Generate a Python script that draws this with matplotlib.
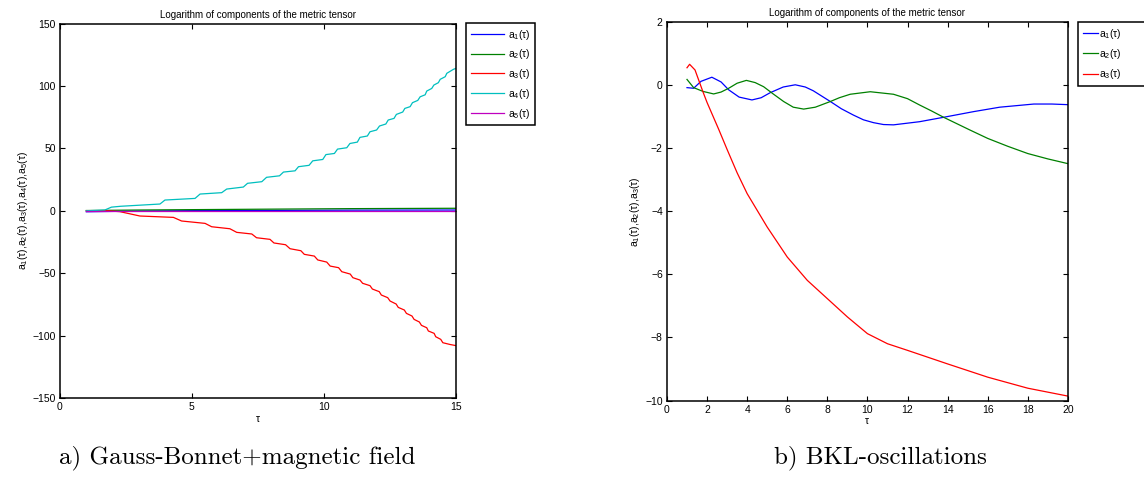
import matplotlib
matplotlib.use("Agg")
import matplotlib.pyplot as plt

plt.rcParams['font.family'] = ['Liberation Sans', 'DejaVu Sans']
plt.rcParams['mathtext.default'] = 'regular'

# ---- panel a) Gauss-Bonnet + magnetic field ---------------------------
tau_a1 = [1.0, 3.0, 5.0, 8.0, 11.0, 15.0]
a1 = [-0.8, -0.2, 0.1, 0.3, 0.5, 0.6]

tau_a2 = [1.0, 3.0, 5.0, 8.0, 11.0, 15.0]
a2 = [0.2, 0.6, 0.9, 1.3, 1.7, 2.0]

tau_a3 = [1.0, 1.8, 2.27, 3.03, 4.30, 4.61, 5.50, 5.75, 6.44, 6.70, 7.27, 7.45,
          7.96, 8.11, 8.55, 8.72, 9.13, 9.26, 9.64, 9.77, 10.11, 10.24, 10.56,
          10.68, 11.00, 11.10, 11.37, 11.47, 11.75, 11.84, 12.10, 12.18, 12.42,
          12.51, 12.74, 12.82, 13.05, 13.13, 13.34, 13.42, 13.62, 13.70, 13.90,
          13.96, 14.18, 14.24, 14.43, 14.51, 14.78, 15.0]
a3 = [0.0, 0.0, -0.7, -4.2, -5.3, -8.2, -10.1, -12.8, -14.4, -17.3, -18.6, -21.6,
      -22.9, -25.8, -27.2, -30.4, -32.0, -34.9, -36.3, -39.4, -41.1, -44.3, -45.6,
      -48.8, -50.7, -53.6, -55.5, -58.1, -60.0, -62.7, -64.8, -67.5, -69.6,
      -72.3, -74.7, -77.4, -79.5, -82.2, -84.3, -87.0, -89.1, -91.8, -93.7,
      -96.3, -98.2, -100.9, -103.0, -105.7, -107.1, -108.0]

tau_a4 = [1.0, 1.7, 1.95, 2.3, 3.79, 3.98, 5.12, 5.31, 6.13, 6.32, 6.95, 7.11,
          7.65, 7.83, 8.32, 8.47, 8.91, 9.04, 9.44, 9.58, 9.96, 10.08, 10.40,
          10.52, 10.87, 10.99, 11.27, 11.37, 11.65, 11.75, 12.00, 12.11, 12.35,
          12.44, 12.66, 12.75, 12.99, 13.07, 13.27, 13.36, 13.56, 13.65, 13.84,
          13.90, 14.09, 14.17, 14.34, 14.41, 14.60, 14.66, 14.91, 15.0]
a4 = [0.0, 0.6, 2.9, 3.6, 5.4, 8.6, 9.9, 13.4, 14.5, 17.4, 19.0, 22.0,
      23.3, 26.8, 28.0, 31.0, 32.0, 35.3, 36.4, 40.0, 41.1, 45.0, 45.9,
      49.4, 50.5, 53.9, 55.0, 58.8, 59.9, 63.3, 64.7, 67.9, 69.5,
      72.7, 74.0, 77.2, 79.1, 82.0, 83.4, 86.6, 88.4, 91.3, 92.9,
      95.9, 98.0, 100.7, 102.6, 105.3, 107.4, 110.1, 113.3, 114.0]

tau_a5 = [1.0, 5.0, 10.0, 15.0]
a5 = [-0.3, -0.3, -0.3, -0.3]

# ---- panel b) BKL oscillations ----------------------------------------
tau_b1 = [1.0, 1.33, 1.7, 2.24, 2.7, 3.08, 3.6, 4.24, 4.7, 5.15, 5.8, 6.4, 6.9,
          7.3, 8.15, 8.7, 9.3, 9.8, 10.3, 10.8, 11.3, 12.6, 13.8, 15.3, 16.6,
          18.3, 19.2, 20.0]
b1 = [-0.08, -0.10, 0.12, 0.25, 0.10, -0.15, -0.38, -0.47, -0.40, -0.24, -0.06,
      0.01, -0.06, -0.18, -0.52, -0.75, -0.95, -1.10, -1.19, -1.25, -1.26, -1.16,
      -1.02, -0.84, -0.70, -0.60, -0.60, -0.62]

tau_b2 = [1.0, 1.33, 1.8, 2.33, 2.7, 3.08, 3.5, 3.96, 4.4, 4.82, 5.3, 5.82, 6.3,
          6.82, 7.4, 8.15, 8.6, 9.14, 10.14, 11.3, 12.0, 12.6, 13.2, 13.8, 15.1,
          16.0, 17.0, 18.0, 19.0, 20.0]
b2 = [0.18, -0.08, -0.2, -0.28, -0.22, -0.10, 0.06, 0.15, 0.08, -0.05, -0.28,
      -0.52, -0.70, -0.76, -0.70, -0.52, -0.40, -0.29, -0.21, -0.29, -0.43,
      -0.63, -0.82, -1.02, -1.42, -1.69, -1.94, -2.17, -2.34, -2.49]

tau_b3 = [1.0, 1.13, 1.4, 1.8, 2.0, 2.58, 3.0, 3.5, 4.0, 5.0, 6.0, 7.0, 8.0,
          9.0, 10.0, 11.0, 12.0, 14.0, 16.0, 18.0, 20.0]
b3 = [0.55, 0.66, 0.48, -0.22, -0.55, -1.40, -2.04, -2.78, -3.44, -4.50, -5.45,
      -6.19, -6.77, -7.35, -7.88, -8.20, -8.41, -8.84, -9.26, -9.61, -9.86]

labels_a = [f'a$_{i}$(τ)' for i in range(1, 6)]
colors = ['#0000ff', '#008000', '#ff0000', '#00bfbf', '#bf00bf']
title = 'Logarithm of components of the metric tensor'


def style_axes(ax):
    ax.tick_params(direction='in', length=3.5, width=0.8, labelsize=7.5,
                   top=True, right=True, pad=3)
    for sp in ax.spines.values():
        sp.set_linewidth(1.1)
    ax.set_title(title, fontsize=7, pad=4)
    ax.set_xlabel('τ', fontsize=7.5, labelpad=1)


fig = plt.figure(figsize=(11.44, 4.8), dpi=100)

# ---- left panel --------------------------------------------------------
axa = fig.add_axes([0.0524, 0.1708, 0.3460, 0.7802])
series_a = [(tau_a1, a1), (tau_a2, a2), (tau_a3, a3), (tau_a4, a4), (tau_a5, a5)]
for (t, v), c, lab in zip(series_a, colors, labels_a):
    axa.plot(t, v, color=c, lw=0.9, label=lab)
axa.set_xlim(0, 15)
axa.set_ylim(-150, 150)
axa.set_xticks([0, 5, 10, 15])
axa.set_yticks([-150, -100, -50, 0, 50, 100, 150])
axa.set_ylabel('a$_1$(τ),a$_2$(τ),a$_3$(τ),a$_4$(τ),a$_5$(τ)', fontsize=7.5, labelpad=2)
style_axes(axa)
leg = axa.legend(loc='upper left', bbox_to_anchor=(466 / 1144, 1 - 23 / 480),
                 bbox_transform=fig.transFigure, borderaxespad=0, fontsize=7.5,
                 handlelength=3.2, handletextpad=0.4, labelspacing=0.55,
                 borderpad=0.45, fancybox=False, edgecolor='black', framealpha=1)
leg.get_frame().set_linewidth(1.1)

# ---- right panel -------------------------------------------------------
axb = fig.add_axes([0.5830, 0.1656, 0.3505, 0.7885])
series_b = [(tau_b1, b1), (tau_b2, b2), (tau_b3, b3)]
for (t, v), c, lab in zip(series_b, colors, labels_a[:3]):
    axb.plot(t, v, color=c, lw=0.9, label=lab)
axb.set_xlim(0, 20)
axb.set_ylim(-10, 2)
axb.set_xticks(range(0, 21, 2))
axb.set_yticks(range(-10, 3, 2))
axb.set_ylabel('a$_1$(τ),a$_2$(τ),a$_3$(τ)', fontsize=7.5, labelpad=2)
style_axes(axb)
top_b = 1 - 22 / 480
legb = axb.legend(loc='upper left', bbox_to_anchor=(1078 / 1144, top_b - 0.1, 0.1, 0.1),
                  bbox_transform=fig.transFigure, mode='expand', borderaxespad=0,
                  fontsize=7.5, handlelength=1.5, handletextpad=0.1,
                  labelspacing=0.6, borderpad=0.45, fancybox=False,
                  edgecolor='black', framealpha=1)
legb.get_frame().set_linewidth(1.1)

# ---- captions ----------------------------------------------------------
fig.text(237 / 1144, 1 - 458 / 480, 'a) Gauss-Bonnet+magnetic field',
         family='cmr10', fontsize=18, ha='center', va='center')
fig.text(880 / 1144, 1 - 458 / 480, 'b) BKL-oscillations',
         family='cmr10', fontsize=18, ha='center', va='center')

fig.savefig('out.png', dpi=100)
